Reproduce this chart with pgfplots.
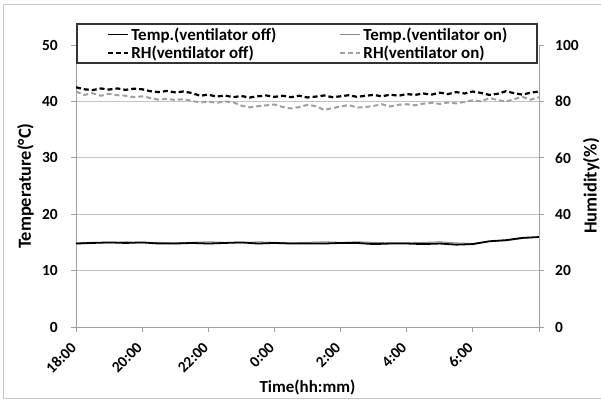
\documentclass[border=0pt]{standalone}
\usepackage{pgfplots}
\pgfplotsset{compat=1.18}
\usepackage{fontspec}
\setmainfont{Carlito}
\definecolor{axgray}{HTML}{A0A0A0}
\definecolor{gridgray}{HTML}{C4C4C4}
\definecolor{framegray}{HTML}{C8C8C8}
\definecolor{tempon}{HTML}{8A8A8A}
\definecolor{rhon}{HTML}{A0A0A0}

\pgfplotstableread{
h T
0 14.8
0.5 14.9
1 15.0
1.5 14.9
2 15.0
2.5 14.8
3 14.8
3.5 14.9
4 14.8
4.5 14.9
5 15.0
5.5 14.8
6 14.9
6.5 14.8
7 14.8
7.5 14.8
8 14.9
8.5 14.9
9 14.7
9.5 14.8
10 14.8
10.5 14.7
11 14.8
11.5 14.6
12 14.7
12.5 15.2
13 15.4
13.5 15.8
14 15.95
}\tempoff

\pgfplotstableread{
h T
0 14.9
0.5 15.0
1 14.9
1.5 15.1
2 14.9
2.5 15.0
3 14.9
3.5 15.0
4 15.1
4.5 15.0
5 14.9
5.5 15.1
6 15.0
6.5 14.9
7 15.0
7.5 15.1
8 15.0
8.5 15.1
9 15.0
9.5 14.9
10 14.9
10.5 15.0
11 15.1
11.5 14.9
12 14.8
12.5 15.2
13 15.3
13.5 15.7
14 16.0
}\tempon

\pgfplotstableread{
h RH
0 85.0
0.25 84.3
0.5 84.0
0.75 84.6
1.0 84.2
1.25 84.6
1.5 84.1
1.75 84.5
2.0 84.3
2.25 83.6
2.5 83.3
2.75 83.7
3.0 83.2
3.25 83.5
3.5 83.0
3.75 82.0
4.0 82.4
4.25 81.7
4.5 82.1
4.75 81.5
5.0 81.9
5.25 81.4
5.5 81.8
5.75 82.1
6.0 81.6
6.25 82.0
6.5 81.5
6.75 82.0
7.0 81.4
7.25 81.7
7.5 82.1
7.75 81.5
8.0 81.8
8.25 82.2
8.5 81.6
8.75 82.0
9.0 82.3
9.25 81.8
9.5 82.4
9.75 82.0
10.0 82.6
10.25 82.3
10.5 82.8
10.75 82.4
11.0 83.1
11.25 82.6
11.5 83.3
11.75 82.8
12.0 83.5
12.25 83.0
12.5 82.3
12.75 82.7
13.0 83.6
13.25 82.9
13.5 82.4
13.75 83.1
14.0 83.5
}\rhoff

\pgfplotstableread{
h RH
0 83.5
0.25 82.3
0.5 82.9
0.75 82.0
1.0 82.7
1.25 82.2
1.5 82.0
1.75 81.5
2.0 81.8
2.25 81.2
2.5 80.6
2.75 80.9
3.0 80.5
3.25 80.8
3.5 80.2
3.75 79.6
4.0 79.9
4.25 79.5
4.5 80.0
4.75 79.7
5.0 78.5
5.25 77.9
5.5 78.3
5.75 78.6
6.0 78.9
6.25 78.0
6.5 77.5
6.75 78.0
7.0 78.8
7.25 78.3
7.5 77.0
7.75 77.6
8.0 78.2
8.25 78.7
8.5 77.8
8.75 78.0
9.0 78.4
9.25 79.0
9.5 78.2
9.75 78.8
10.0 79.0
10.25 78.6
10.5 79.2
10.75 79.5
11.0 79.1
11.25 79.6
11.5 79.3
11.75 79.8
12.0 80.4
12.25 80.0
12.5 81.2
12.75 80.5
13.0 79.9
13.25 80.8
13.5 81.6
13.75 80.6
14.0 81.5
}\rhon

\begin{document}
\begin{tikzpicture}
\useasboundingbox (-76bp,-73bp) rectangle (525bp,327bp);
\draw[framegray, line width=1bp] (530bp,-71bp) -- (-72bp,-71bp) -- (-72bp,322bp) -- (530bp,322bp);

\pgfplotsset{
  base/.style={
    at={(0,0)}, anchor=south west,
    scale only axis, width=463bp, height=282bp,
    xmin=0, xmax=14,
    axis line style={axgray, line width=0.8bp},
    tick style={axgray, line width=0.8bp},
    tick align=outside, major tick length=5bp,
    /pgf/number format/assume math mode=true,
    ticklabel style={font=\bfseries\fontsize{15.5}{17}\selectfont},
    label style={font=\bfseries\fontsize{18.5}{20}\selectfont},
  }
}

\begin{axis}[base,
  axis x line*=bottom, axis y line*=left,
  ymin=0, ymax=50, ytick={0,10,...,40},
  extra y ticks={50}, extra y tick style={grid=none},
  xtick={0,2,...,14}, xticklabels={18:00,20:00,22:00,0:00,2:00,4:00,6:00,{}},
  xticklabel style={rotate=45, anchor=north east, inner sep=0bp, xshift=-11bp, yshift=-2bp},
  yticklabel style={inner sep=0bp, xshift=-13bp},
  ymajorgrids, grid style={gridgray, line width=0.8bp},
  xlabel={Time(hh:mm)},
  xlabel style={at={(axis description cs:0.5,-0.2128)}, anchor=center, font=\bfseries\fontsize{17}{19}\selectfont},
  ylabel={Temperature(°C)},
  ylabel style={at={(axis description cs:-0.109,0.5)}, anchor=center, rotate=0},
]
\addplot[tempon, line width=1bp] table[x=h, y=T] {\tempon};
\addplot[black, line width=1.8bp] table[x=h, y=T] {\tempoff};
\end{axis}

\begin{axis}[base,
  axis x line=none, axis y line*=right,
  ymin=0, ymax=100, ytick={0,20,...,100},
  yticklabel style={inner sep=0bp, xshift=11bp},
  ylabel={Humidity(\%)},
  ylabel style={at={(axis description cs:1.113,0.5)}, anchor=center, rotate=0},
  legend columns=2,
  legend cell align=left,
  legend image code/.code={\draw[#1] (0bp,0bp) -- (20bp,0bp);},
  legend style={at={(axis description cs:0.002,1.0745)}, anchor=north west,
    draw=none, fill=none,
    font=\bfseries\fontsize{17}{18}\selectfont,
    inner xsep=30bp, inner ysep=1.5bp, row sep=0bp,
    /tikz/every even column/.append style={column sep=61bp}},
]
\addlegendimage{black, line width=1.5bp}
\addlegendentry{Temp.(ventilator off)}
\addlegendimage{tempon, line width=1bp}
\addlegendentry{Temp.(ventilator on)}
\addplot[black, line width=2.2bp, dash pattern=on 5bp off 3bp] table[x=h, y=RH] {\rhoff};
\addlegendentry{RH(ventilator off)}
\addplot[rhon, line width=2bp, dash pattern=on 5bp off 3bp] table[x=h, y=RH] {\rhon};
\addlegendentry{RH(ventilator on)}
\end{axis}
\draw[black!80, line width=1.5bp] (1bp,264bp) -- (461bp,264bp) -- (461bp,303bp) -- (1bp,303bp) -- cycle;
\end{tikzpicture}
\end{document}
